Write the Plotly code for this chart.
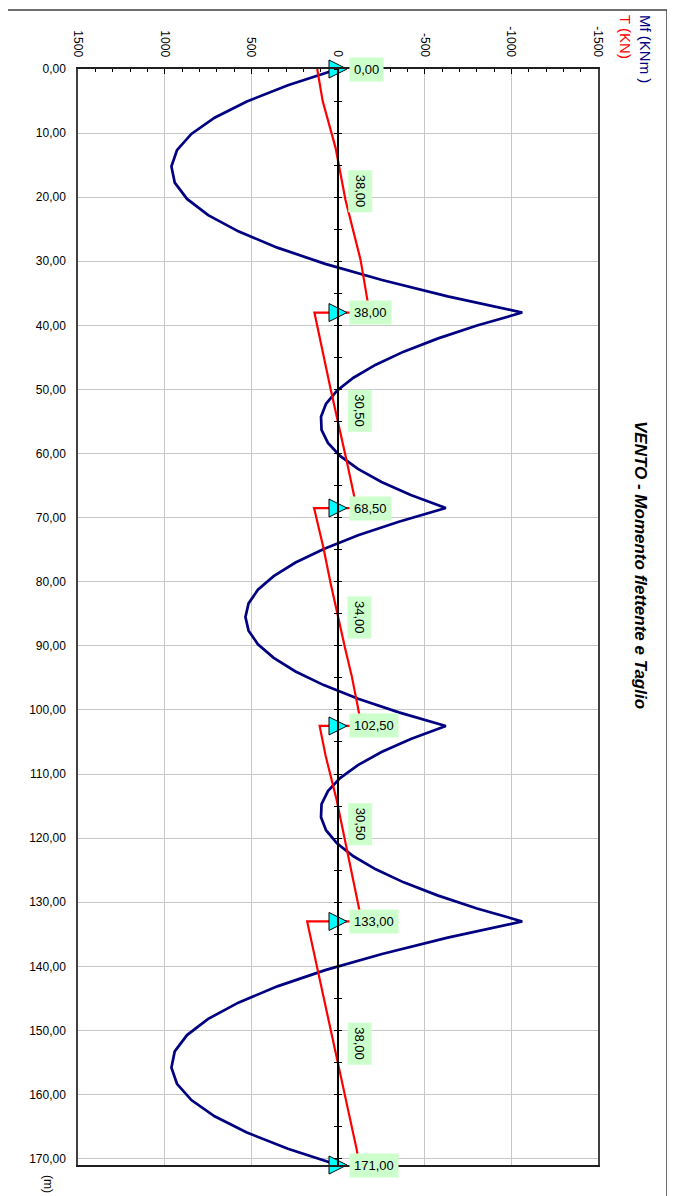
import plotly.graph_objects as go

# ---------------- data ----------------
# positions along the beam (m) and bending moment Mf (KNm)
pos_mf = [0.00, 2.53, 5.07, 7.60, 10.13, 12.67, 15.20, 17.73, 20.27, 22.80, 25.33, 27.87, 30.40, 32.93, 35.47,
          38.00, 40.03, 42.07, 44.10, 46.13, 48.17, 50.20, 52.23, 54.27, 56.30, 58.33, 60.37, 62.40, 64.43, 66.47,
          68.50, 70.63, 72.75, 74.88, 77.00, 79.13, 81.25, 83.38, 85.50, 87.63, 89.75, 91.88, 94.00, 96.13, 98.25, 100.38,
          102.50, 104.53, 106.57, 108.60, 110.63, 112.67, 114.70, 116.73, 118.77, 120.80, 122.83, 124.87, 126.90, 128.93, 130.97,
          133.00, 135.53, 138.07, 140.60, 143.13, 145.67, 148.20, 150.73, 153.27, 155.80, 158.33, 160.87, 163.40, 165.93, 168.47,
          171.00]
mf = [0, 289, 526, 712, 846, 929, 961, 942, 871, 749, 575, 350, 74, -254, -633,
      -1063, -802, -574, -379, -218, -89, 6, 69, 98, 95, 58, -12, -115, -251, -420,
      -622, -351, -116, 82, 245, 371, 462, 516, 534, 516, 462, 371, 245, 82, -116, -351,
      -622, -420, -251, -115, -12, 58, 95, 98, 69, 6, -89, -218, -379, -574, -802,
      -1063, -633, -254, 74, 350, 575, 749, 871, 942, 961, 929, 846, 712, 526, 289,
      0]

# shear T (KN)
pos_t = [0.0, 5.05, 12.3, 20.4, 29.75, 35.9, 38.0,
         38.0, 45.4, 50.0, 61.5, 66.1, 68.5,
         68.5, 74.7, 80.2, 85.9, 90.6, 94.8, 100.1, 102.5,
         102.5, 107.2, 114.0, 121.8, 125.4, 130.9, 133.0,
         133.0, 137.7, 145.2, 151.4, 157.9, 165.5, 168.6, 171.0]
t = [120, 88, 14, -43, -130, -172, -182,
     136, 80, 42, -53, -90, -108,
     138, 84, 43, -3, -43, -80, -118, -136,
     106, 71, 8, -50, -80, -120, -137,
     178, 140, 82, 33, -22, -82, -108, -122]

supports = [0, 38, 68.5, 102.5, 133, 171]
support_labels = ["0,00", "38,00", "68,50", "102,50", "133,00", "171,00"]
span_labels = ["38,00", "30,50", "34,00", "30,50", "38,00"]

x_tickvals = [1500, 1000, 500, 0, -500, -1000, -1500]
x_ticktext = ["1500", "1000", "500", "0", "-500", "-1000", "-1500"]
y_tickvals = [0, 10, 20, 30, 40, 50, 60, 70, 80, 90, 100, 110, 120, 130, 140, 150, 160, 170]
y_ticktext = ["0,00", "10,00", "20,00", "30,00", "40,00", "50,00", "60,00", "70,00", "80,00",
              "90,00", "100,00", "110,00", "120,00", "130,00", "140,00", "150,00", "160,00", "170,00"]

title_text = "VENTO - Momento flettente e Taglio"
legend_mf = "Mf (KNm )"
legend_t = "T (KN)"
unit_label = "(m)"

# ---------------- figure ----------------
FONT = "Arial, 'Liberation Sans', sans-serif"
OFF = 8                       # default page margin of the html body
W, H = 675 - OFF, 1196 - OFF
# plot area wanted on screen: x 78..598, y 69..1165
SX0, SX1, SY0, SY1 = 78, 598, 69, 1165
ML, MT = SX0 - OFF, SY0 - OFF
MR, MB = W - (SX1 - OFF), H - (SY1 - OFF)
PW, PH = SX1 - SX0, SY1 - SY0


def px_x(x):
    return (x - SX0) / PW


def px_y(y):
    return (SY1 - y) / PH


fig = go.Figure()
fig.add_trace(go.Scatter(x=mf, y=pos_mf, mode="lines", name="Mf",
                         line=dict(color="#000080", width=2.7), showlegend=False, hoverinfo="skip"))
fig.add_trace(go.Scatter(x=t, y=pos_t, mode="lines", name="T",
                         line=dict(color="#FF0000", width=2.2), showlegend=False, hoverinfo="skip"))
fig.add_trace(go.Scatter(x=[0] * len(supports), y=supports, mode="markers", showlegend=False,
                         hoverinfo="skip", cliponaxis=False,
                         marker=dict(symbol="arrow-down", angle=-90, standoff=9, size=18,
                                     color="#00FFFF", line=dict(color="black", width=1))))
# invisible traces to carry the central axis (ticks on both sides)
fig.add_trace(go.Scatter(x=[0], y=[0], yaxis="y2", mode="markers", marker=dict(opacity=0),
                         showlegend=False, hoverinfo="skip"))
fig.add_trace(go.Scatter(x=[0], y=[0], yaxis="y3", mode="markers", marker=dict(opacity=0),
                         showlegend=False, hoverinfo="skip"))

ann = []
for p, lab in zip(supports, support_labels):
    ann.append(dict(x=0, y=p, xref="x", yref="y", text=lab, showarrow=False, xanchor="left",
                    yanchor="middle", xshift=11, bgcolor="#CCFFCC", borderpad=4,
                    font=dict(family=FONT, size=13, color="black")))
for a, b, lab in zip(supports[:-1], supports[1:], span_labels):
    ann.append(dict(x=0, y=(a + b) / 2, xref="x", yref="y", text=lab, showarrow=False,
                    xanchor="center", yanchor="middle", xshift=22, textangle=90,
                    bgcolor="#CCFFCC", borderpad=4, font=dict(family=FONT, size=13, color="black")))
ann.append(dict(x=px_x(641), y=px_y(565), xref="paper", yref="paper", text="<b><i>%s</i></b>" % title_text,
                showarrow=False, textangle=90, xanchor="center", yanchor="middle",
                font=dict(family=FONT, size=17, color="black")))
ann.append(dict(x=px_x(645), y=px_y(13), xref="paper", yref="paper", text=legend_mf,
                showarrow=False, textangle=90, xanchor="center", yanchor="top",
                font=dict(family=FONT, size=15, color="#000080")))
ann.append(dict(x=px_x(625), y=px_y(13), xref="paper", yref="paper", text=legend_t,
                showarrow=False, textangle=90, xanchor="center", yanchor="top",
                font=dict(family=FONT, size=15, color="#FF0000")))
ann.append(dict(x=px_x(48), y=px_y(1184), xref="paper", yref="paper", text=unit_label,
                showarrow=False, textangle=90, xanchor="center", yanchor="middle",
                font=dict(family=FONT, size=12, color="black")))

shapes = [dict(type="rect", xref="paper", yref="paper", x0=px_x(-20), x1=px_x(667),
               y0=px_y(1250), y1=px_y(10), line=dict(color="#404040", width=1.5), layer="above")]

fig.update_layout(
    width=W, height=H, margin=dict(l=ML, r=MR, t=MT, b=MB, autoexpand=False),
    paper_bgcolor="white", plot_bgcolor="white",
    font=dict(family=FONT, size=12, color="black"),
    annotations=ann, shapes=shapes, showlegend=False,
    xaxis=dict(range=[1500, -1500], side="top", tickvals=x_tickvals, ticktext=x_ticktext,
               tickangle=90, tickfont=dict(size=12), showgrid=True, gridcolor="#C8C8C8", gridwidth=1,
               showline=True, linecolor="#202020", linewidth=1.5, mirror=True, zeroline=False,
               ticks="inside", ticklen=5, tickcolor="black", ticklabelstandoff=6,
               minor=dict(dtick=100, tick0=0, ticks="inside", ticklen=3, tickcolor="black", showgrid=False)),
    yaxis=dict(range=[171, 0], tickvals=y_tickvals, ticktext=y_ticktext, tickfont=dict(size=12),
               showgrid=True, gridcolor="#C8C8C8", gridwidth=1, showline=True, linecolor="#404040",
               linewidth=1.5, mirror=True, zeroline=False, ticks="", ticklabelstandoff=8),
    yaxis2=dict(range=[171, 0], overlaying="y", anchor="free", position=0.5, showline=True,
                linecolor="black", linewidth=1.5, ticks="outside", ticklen=3, tickcolor="black",
                dtick=5, tick0=0, showticklabels=False, showgrid=False, zeroline=False),
    yaxis3=dict(range=[171, 0], overlaying="y", anchor="free", position=0.5, showline=True,
                linecolor="black", linewidth=1.5, ticks="inside", ticklen=3, tickcolor="black",
                dtick=5, tick0=0, showticklabels=False, showgrid=False, zeroline=False),
)

fig.write_html("out.html")
